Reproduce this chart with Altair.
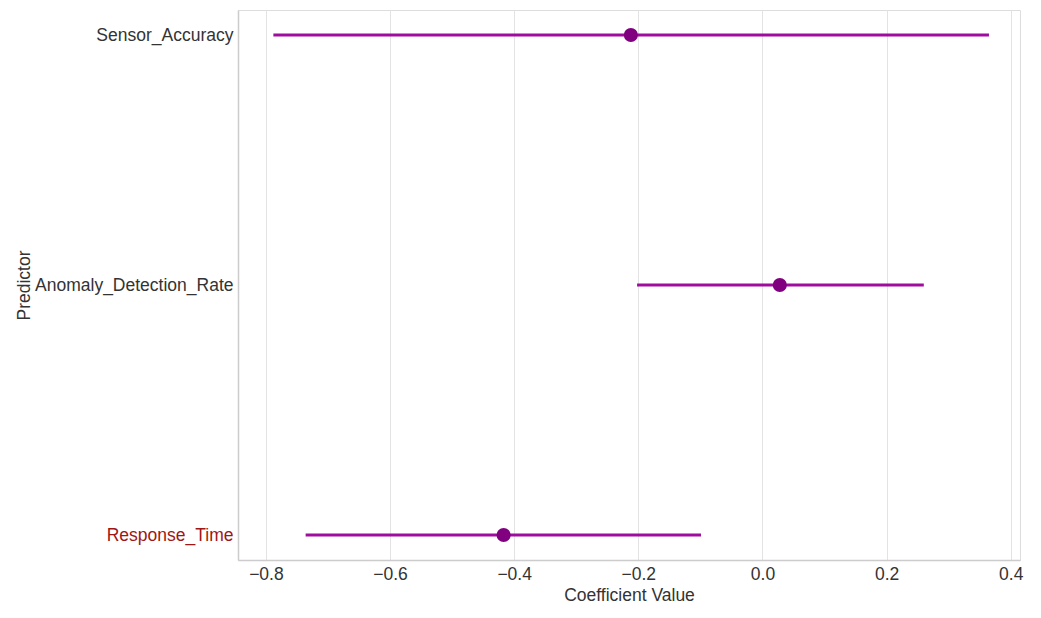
import altair as alt
import pandas as pd

predictors = ["Sensor_Accuracy", "Anomaly_Detection_Rate", "Response_Time"]
coef = [-0.212, 0.028, -0.417]
ci_low = [-0.788, -0.202, -0.736]
ci_high = [0.365, 0.260, -0.099]

df = pd.DataFrame({"Predictor": predictors, "coef": coef, "low": ci_low, "high": ci_high})

FONT = "Liberation Sans"
TXT = "#333333"

x_scale = alt.Scale(domain=[-0.845, 0.415], nice=False, zero=False)
y_enc = alt.Y(
    "Predictor:N",
    sort=predictors,
    scale=alt.Scale(type="point", padding=0.1),
    title="Predictor",
    axis=alt.Axis(
        grid=False,
        ticks=False,
        labelPadding=5,
        labelLimit=0,
        labelFontSize=17.5,
        labelFont=FONT,
        labelColor={"condition": {"test": "datum.value == 'Response_Time'", "value": "#a01515"}, "value": TXT},
        titleFontSize=17.5,
        titleFont=FONT,
        titleFontWeight="normal",
        titleColor=TXT,
        titlePadding=5,
        domainColor="#cccccc",
        domainWidth=1.5,
    ),
)

x_axis = alt.Axis(
    values=[-0.8, -0.6, -0.4, -0.2, 0.0, 0.2, 0.4],
    format=".1f",
    grid=True,
    gridColor="#e3e3e3",
    gridWidth=1,
    ticks=False,
    labelPadding=5,
    labelFontSize=17.5,
    labelFont=FONT,
    labelColor=TXT,
    titleFontSize=17.5,
    titleFont=FONT,
    titleFontWeight="normal",
    titleColor=TXT,
    titlePadding=4,
    domainColor="#cccccc",
    domainWidth=1.5,
)

rules = alt.Chart(df).mark_rule(color="#990099", strokeWidth=3, opacity=0.95).encode(
    x=alt.X("low:Q", scale=x_scale, axis=x_axis, title="Coefficient Value"),
    x2="high:Q",
    y=y_enc,
)

points = alt.Chart(df).mark_circle(color="#800080", opacity=1, size=200).encode(
    x=alt.X("coef:Q", scale=x_scale),
    y=alt.Y("Predictor:N", sort=predictors),
)

chart = (
    alt.layer(rules, points)
    .properties(
        width=782,
        height=550,
        autosize=alt.AutoSizeParams(type="none"),
        padding={"left": 230, "top": 2, "right": 13, "bottom": 48},
    )
    .configure_view(stroke=None)
    .configure(background="white")
)

chart.save("out.html", embed_options={"renderer": "svg", "actions": False})
